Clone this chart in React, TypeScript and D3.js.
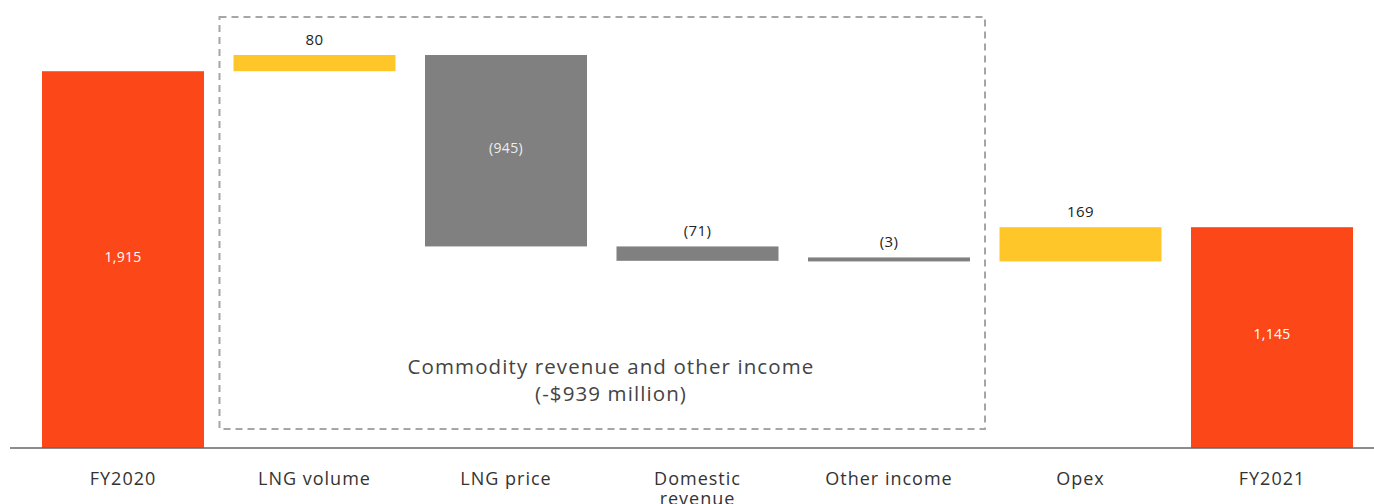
import React from "react";
import * as d3 from "d3";

const categories = ["FY2020", "LNG volume", "LNG price", "Domestic revenue", "Other income", "Opex", "FY2021"];
const values = [1915, 80, -945, -71, -3, 169, 1145];
const kinds = ["total", "delta", "delta", "delta", "delta", "delta", "total"];
const valueLabels = ["1,915", "80", "(945)", "(71)", "(3)", "169", "1,145"];
const groupTitle = ["Commodity revenue and other income", "(-$939 million)"];
const groupMembers = ["LNG volume", "Other income"];

const W = 1374;
const H = 504;
const FONT = "'Open Sans', Lato, sans-serif";
const MIN_BAR = 4;

export default function App() {
  const x = d3
    .scaleBand<string>()
    .domain(categories)
    .range([27.25, 1367.75])
    .paddingInner(0.154)
    .paddingOuter(0.077);
  const y = d3.scaleLinear().domain([55, 2000]).range([448, 54]);
  const base = y.range()[0];
  const bw = x.bandwidth();

  let running = 0;
  const bars = categories.map((c, i) => {
    let top: number, bottom: number;
    if (kinds[i] === "total") {
      running = values[i];
      bottom = base;
      top = y(values[i]);
    } else {
      const start = running;
      running = running + values[i];
      bottom = y(Math.min(start, running));
      top = y(Math.max(start, running));
      if (bottom - top < MIN_BAR) top = bottom - MIN_BAR;
    }
    const h = bottom - top;
    const color = kinds[i] === "total" ? "#FC4719" : values[i] >= 0 ? "#FFC629" : "#808080";
    return { c, i, x: x(c)!, top, h, color };
  });

  const boxX0 = x(groupMembers[0])! - 14;
  const boxX1 = x(groupMembers[1])! + bw + 15;
  const boxTop = 17;
  const boxBottom = 429;

  return (
    <svg width={W} height={H} style={{ position: "absolute", left: 0, top: 0, display: "block" }}>
      <rect x={0} y={0} width={W} height={H} fill="#fff" />
      <rect
        x={boxX0}
        y={boxTop}
        width={boxX1 - boxX0}
        height={boxBottom - boxTop}
        fill="none"
        stroke="#a6a6a6"
        strokeWidth={2}
        strokeDasharray="7,5"
      />
      {bars.map((b) => (
        <rect key={b.c} x={b.x} y={b.top} width={bw} height={b.h} fill={b.color} />
      ))}
      {bars.map((b) => {
        const inside = b.h > 40;
        const cx = b.x + bw / 2;
        if (inside) {
          return (
            <text
              key={"v" + b.c}
              x={cx}
              y={b.top + b.h / 2 - 3}
              dy="0.35em"
              textAnchor="middle"
              fontFamily={FONT}
              fontSize={14}
              letterSpacing={0.3}
              fill={kinds[b.i] === "total" ? "#ffffff" : "#eeeeee"}
            >
              {valueLabels[b.i]}
            </text>
          );
        }
        return (
          <text
            key={"v" + b.c}
            x={cx}
            y={b.top - 10}
            textAnchor="middle"
            fontFamily={FONT}
            fontSize={15}
            letterSpacing={0.4}
            fill="#222"
          >
            {valueLabels[b.i]}
          </text>
        );
      })}
      <line x1={10} x2={W} y1={448} y2={448} stroke="#666" strokeWidth={1.5} />
      {categories.map((c) => {
        const words = c === "Domestic revenue" ? ["Domestic", "revenue"] : [c];
        return (
          <text
            key={"c" + c}
            x={x(c)! + bw / 2}
            y={485}
            textAnchor="middle"
            fontFamily={FONT}
            fontSize={18}
            letterSpacing={1}
            fill="#333"
          >
            {words.map((w, k) => (
              <tspan key={k} x={x(c)! + bw / 2} dy={k === 0 ? 0 : 20}>
                {w}
              </tspan>
            ))}
          </text>
        );
      })}
      {groupTitle.map((t, k) => (
        <text
          key={"g" + k}
          x={611}
          y={374 + k * 27}
          textAnchor="middle"
          fontFamily={FONT}
          fontSize={20.5}
          letterSpacing={1.1}
          fill="#444"
        >
          {t}
        </text>
      ))}
    </svg>
  );
}
